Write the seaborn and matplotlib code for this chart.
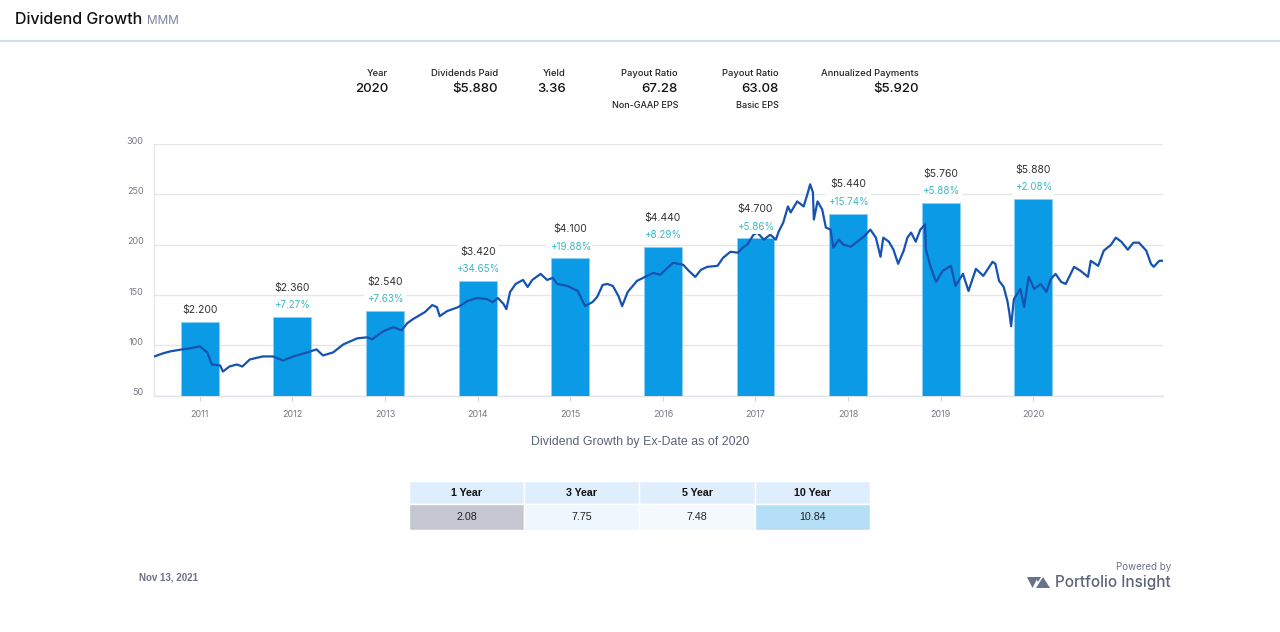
import numpy as np
import pandas as pd
import matplotlib
matplotlib.use("Agg")
import matplotlib.pyplot as plt
import matplotlib.transforms as mtransforms
from matplotlib.patches import Rectangle, Polygon
from matplotlib.lines import Line2D
import seaborn as sns

# ---------------- data ----------------
years = [2011, 2012, 2013, 2014, 2015, 2016, 2017, 2018, 2019, 2020]
dividends = [2.200, 2.360, 2.540, 3.420, 4.100, 4.440, 4.700, 5.440, 5.760, 5.880]
growth_pct = [None, 7.27, 7.63, 34.65, 19.88, 8.29, 5.86, 15.74, 5.88, 2.08]

price_dates = [
    2011.01, 2011.10, 2011.18, 2011.31, 2011.39, 2011.50, 2011.58, 2011.63, 2011.72, 2011.75,
    2011.82, 2011.90, 2011.96, 2012.04, 2012.18, 2012.29, 2012.40, 2012.51, 2012.66, 2012.76,
    2012.83, 2012.94, 2013.05, 2013.20, 2013.31, 2013.36, 2013.48, 2013.59, 2013.68, 2013.74,
    2013.80, 2013.93, 2014.01, 2014.06, 2014.09, 2014.17, 2014.29, 2014.39, 2014.49, 2014.60,
    2014.66, 2014.72, 2014.78, 2014.81, 2014.85, 2014.91, 2014.99, 2015.04, 2015.09, 2015.18,
    2015.25, 2015.31, 2015.36, 2015.47, 2015.58, 2015.66, 2015.74, 2015.79, 2015.85, 2015.90,
    2015.96, 2016.02, 2016.06, 2016.12, 2016.22, 2016.33, 2016.40, 2016.47, 2016.55, 2016.61,
    2016.72, 2016.78, 2016.85, 2016.91, 2016.98, 2017.09, 2017.15, 2017.23, 2017.31, 2017.36,
    2017.41, 2017.48, 2017.52, 2017.59, 2017.66, 2017.72, 2017.75, 2017.80, 2017.85, 2017.88,
    2017.95, 2018.02, 2018.06, 2018.09, 2018.12, 2018.13, 2018.17, 2018.22, 2018.26, 2018.31,
    2018.34, 2018.40, 2018.45, 2018.53, 2018.60, 2018.67, 2018.74, 2018.80, 2018.85, 2018.88,
    2018.94, 2018.99, 2019.04, 2019.10, 2019.14, 2019.18, 2019.23, 2019.28, 2019.33, 2019.34,
    2019.39, 2019.45, 2019.52, 2019.61, 2019.66, 2019.74, 2019.80, 2019.88, 2019.96, 2020.06,
    2020.09, 2020.13, 2020.18, 2020.22, 2020.24, 2020.26, 2020.29, 2020.36, 2020.40, 2020.45,
    2020.51, 2020.58, 2020.64, 2020.69, 2020.74, 2020.80, 2020.85, 2020.94, 2021.01, 2021.09,
    2021.12, 2021.20, 2021.26, 2021.34, 2021.39, 2021.45, 2021.52, 2021.58, 2021.64, 2021.72,
    2021.77, 2021.80, 2021.86, 2021.91,
]
price_values = [
    89, 92, 94, 96, 97, 99, 93, 81, 80, 74,
    79, 81, 79, 86, 89, 89, 85, 89, 93, 96,
    90, 93, 101, 107, 108, 106, 114, 118, 115, 122,
    126, 133, 140, 138, 129, 134, 138, 144, 147, 146,
    143, 147, 141, 136, 153, 161, 165, 158, 165, 171,
    165, 167, 161, 159, 154, 139, 143, 148, 160, 161,
    159, 149, 139, 153, 164, 169, 172, 170, 177, 182,
    180, 174, 168, 175, 178, 179, 187, 193, 192, 197,
    200, 210, 212, 205, 210, 205, 213, 222, 238, 232,
    243, 238, 250, 260, 252, 225, 243, 235, 217, 215,
    197, 205, 200, 198, 203, 208, 215, 207, 188, 207,
    203, 195, 181, 194, 207, 212, 203, 215, 220, 195,
    178, 163, 174, 179, 159, 171, 154, 176, 169, 183,
    181, 164, 158, 144, 133, 119, 146, 156, 138, 168,
    156, 161, 153, 166, 171, 163, 161, 178, 174, 168,
    184, 179, 194, 200, 207, 203, 195, 202, 202, 194,
    181, 178, 184, 184,
]

price_ticks = [50, 100, 150, 200, 250, 300]

stat_labels = ["Year", "Dividends Paid", "Yield", "Payout Ratio", "Payout Ratio", "Annualized Payments"]
stat_values = ["2020", "$5.880", "3.36", "67.28", "63.08", "$5.920"]
stat_notes = ["", "", "", "Non-GAAP EPS", "Basic EPS", ""]

period_labels = ["1 Year", "3 Year", "5 Year", "10 Year"]
period_growth = [2.08, 7.75, 7.48, 10.84]

# ---------------- styling ----------------
W, H = 1280, 632
sns.set_theme(style="white")
plt.rcParams['font.family'] = ['Inter', 'DejaVu Sans']

BAR_COLOR = "#0b9ae6"
LINE_COLOR = "#1652b0"
PCT_COLOR = "#3db6c7"
GRID_COLOR = "#e6e6e6"
SANS2 = ["Liberation Sans", "DejaVu Sans"]


def fx(px):
    return px / W


def fy(py):
    return 1 - py / H


fig = plt.figure(figsize=(12.8, 6.32), dpi=100)
fig.patch.set_facecolor("white")

left, right, top, bottom = 153.5, 1163, 144, 395.7
rect = [fx(left), fy(bottom), fx(right) - fx(left), (bottom - top) / H]

ax = fig.add_axes(rect)      # grid / ticks
axb = fig.add_axes(rect)     # bars
axl = fig.add_axes(rect)     # price line
axt = fig.add_axes(rect)     # bar labels

x_lo, x_hi = 2011.0, 2021.9
bar_x = [y + 0.5 for y in years]
div_max = 7.52

# base axis
ax.set_xlim(x_lo, x_hi)
ax.set_ylim(50, 300)
ax.set_facecolor("white")
ax.set_yticks(price_ticks)
ax.set_yticklabels([str(t) for t in price_ticks])
ax.set_xticks(bar_x)
ax.set_xticklabels([str(y) for y in years])
ax.grid(axis="y", color=GRID_COLOR, linewidth=1.0)
ax.grid(axis="x", visible=False)
for s in ["top", "right"]:
    ax.spines[s].set_visible(False)
ax.spines["left"].set_color(GRID_COLOR)
ax.spines["left"].set_linewidth(1.0)
ax.spines["bottom"].set_color("#dfe3ea")
ax.spines["bottom"].set_linewidth(1.0)
ax.tick_params(axis="y", length=0, pad=7, labelsize=6.5, labelcolor="#777b85")
ax.tick_params(axis="x", length=3.5, width=0.8, color="#ccd6eb", direction="out",
               pad=7, labelsize=6.5, labelcolor="#777b85", bottom=True)
off = mtransforms.ScaledTranslation(0, 4 / 100, fig.dpi_scale_trans)
for lab in ax.get_yticklabels():
    lab.set_transform(lab.get_transform() + off)

# bars
df_div = pd.DataFrame({"x": bar_x, "dividend": dividends})
sns.barplot(data=df_div, x="x", y="dividend", native_scale=True, width=0.41,
            color=BAR_COLOR, saturation=1, errorbar=None, ax=axb,
            edgecolor="#8fd0f3", linewidth=0.6)
axb.set_xlim(x_lo, x_hi)
axb.set_ylim(0, div_max)
axb.axis("off")

# price line
df_price = pd.DataFrame({"date": price_dates, "price": price_values})
sns.lineplot(data=df_price, x="date", y="price", color=LINE_COLOR, linewidth=1.6, ax=axl)
axl.set_xlim(x_lo, x_hi)
axl.set_ylim(50, 300)
axl.axis("off")

# bar labels
axt.set_xlim(x_lo, x_hi)
axt.set_ylim(0, div_max)
axt.axis("off")
box = dict(boxstyle="square,pad=0.25", fc="white", ec="none")
for x, d, g in zip(bar_x, dividends, growth_pct):
    if g is None:
        axt.annotate(f"${d:.3f}", xy=(x, d), xytext=(0, 9), textcoords="offset points",
                     ha="center", va="center", fontsize=7.5, color="#333333", bbox=box,
                     annotation_clip=False)
    else:
        axt.annotate(f"${d:.3f}", xy=(x, d), xytext=(0, 21), textcoords="offset points",
                     ha="center", va="center", fontsize=7.5, color="#333333", bbox=box,
                     annotation_clip=False)
        axt.annotate(f"+{g:.2f}%", xy=(x, d), xytext=(0, 8.5), textcoords="offset points",
                     ha="center", va="center", fontsize=7, color=PCT_COLOR, bbox=box,
                     annotation_clip=False)

# ---------------- header ----------------
title = fig.text(fx(15), fy(20), "Dividend Growth", fontsize=11.5, fontweight="medium",
                 color="#111111", va="center", ha="left")
fig.texts.append(None) if False else None
ann = plt.annotate("MMM", xy=(1, 0.5), xycoords=title, xytext=(3.5, -1),
                   textcoords="offset points", fontsize=8.5, color="#7b84a0",
                   va="center", ha="left", annotation_clip=False)
ann.remove()
fig.add_artist(ann)
fig.add_artist(Line2D([0, 1], [fy(40.5), fy(40.5)], transform=fig.transFigure,
                      color="#d5dee8", linewidth=1.5))

stat_x = [388, 498, 566, 678, 779, 919]
for xr, lab, val, note in zip(stat_x, stat_labels, stat_values, stat_notes):
    fig.text(fx(xr), fy(74), lab, fontsize=6.8, fontweight="medium", color="#222222",
             ha="right", va="center")
    fig.text(fx(xr), fy(89), val, fontsize=9.5, fontweight="medium", color="#111111",
             ha="right", va="center")
    if note:
        fig.text(fx(xr), fy(105), note, fontsize=6.5, fontweight="medium", color="#222222",
                 ha="right", va="center")

# subtitle
fig.text(0.5, fy(442), "Dividend Growth by Ex-Date as of 2020", fontsize=8.9,
         color="#5b6378", ha="center", va="center", family=SANS2)

# ---------------- table ----------------
col_edges = [409, 524, 639, 755, 870]
head_fill = "#dfeefc"
val_fills = ["#c4c6d1", "#eef6fe", "#f4f9fe", "#b5dff7"]
for i, (lab, val) in enumerate(zip(period_labels, period_growth)):
    x0, x1 = col_edges[i], col_edges[i + 1]
    fig.add_artist(Rectangle((fx(x0), fy(504)), fx(x1) - fx(x0), (504 - 481) / H,
                             transform=fig.transFigure, facecolor=head_fill,
                             edgecolor="white", linewidth=1))
    fig.add_artist(Rectangle((fx(x0), fy(530)), fx(x1) - fx(x0), (530 - 504) / H,
                             transform=fig.transFigure, facecolor=val_fills[i],
                             edgecolor="white", linewidth=1))
    xc = (x0 + x1) / 2
    fig.text(fx(xc), fy(492.5), lab, fontsize=7.7, fontweight="bold", color="#111111",
             ha="center", va="center", family=SANS2)
    fig.text(fx(xc), fy(517), f"{val:.2f}", fontsize=7.7, color="#222222",
             ha="center", va="center", family=SANS2)

# ---------------- footer ----------------
fig.text(fx(139), fy(577), "Nov 13, 2021", fontsize=7, fontweight="bold", color="#6b7189",
         ha="left", va="center", family=SANS2)
fig.text(fx(1171), fy(567), "Powered by", fontsize=7, color="#6b7189", ha="right", va="center")
fig.text(fx(1171), fy(583), "Portfolio Insight", fontsize=11, fontweight="medium",
         color="#5d6378", ha="right", va="center")
logo_col = "#6b7189"
for pts in [
    [(1027, 577), (1038, 577), (1032.5, 588)],
    [(1036, 588), (1043, 577), (1050, 588)],
    [(1035, 577), (1041, 577), (1038, 582)],
]:
    fig.add_artist(Polygon([(fx(a), fy(b)) for a, b in pts], closed=True,
                           transform=fig.transFigure, facecolor=logo_col, edgecolor="none"))

fig.savefig("out.png", dpi=100, facecolor="white")
